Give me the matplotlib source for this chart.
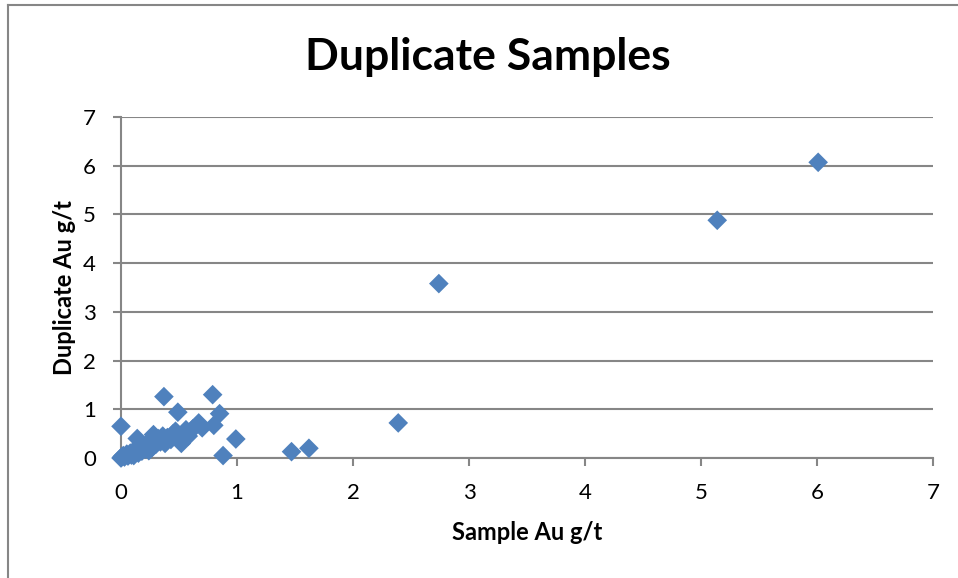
import numpy as np
import matplotlib.pyplot as plt
from matplotlib.lines import Line2D

# sample vs duplicate gold assays (g/t)
sample_au = [0.00, 0.01, 0.02, 0.03, 0.05, 0.06, 0.08, 0.09, 0.10, 0.11,
             0.13, 0.14, 0.15, 0.17, 0.18, 0.20, 0.21, 0.23, 0.24, 0.26,
             0.27, 0.28, 0.30, 0.32, 0.34, 0.36, 0.37, 0.38, 0.40, 0.43,
             0.45, 0.47, 0.49, 0.50, 0.52, 0.54, 0.56, 0.58, 0.62, 0.67,
             0.70, 0.79, 0.80, 0.85, 0.88, 0.99, 0.00, 1.47, 1.62, 2.39,
             2.74, 5.14, 6.01]
duplicate_au = [0.00, 0.03, 0.05, 0.02, 0.08, 0.04, 0.10, 0.06, 0.12, 0.05,
                0.15, 0.40, 0.10, 0.20, 0.14, 0.25, 0.18, 0.30, 0.15, 0.35,
                0.22, 0.48, 0.28, 0.40, 0.33, 0.45, 1.26, 0.30, 0.42, 0.38,
                0.50, 0.55, 0.94, 0.45, 0.30, 0.40, 0.58, 0.45, 0.60, 0.72,
                0.62, 1.30, 0.67, 0.91, 0.05, 0.39, 0.65, 0.13, 0.20, 0.72,
                3.58, 4.88, 6.07]
ticks = [0, 1, 2, 3, 4, 5, 6, 7]

plt.rcParams['font.family'] = ['Lato', 'DejaVu Sans']

fig = plt.figure(figsize=(9.58, 5.78), dpi=100)
ax = fig.add_axes([121 / 958, 1 - 458 / 578, (933 - 121) / 958, (458 - 117) / 578])

grid_col = '#868686'
ax.scatter(sample_au, duplicate_au, marker='D', s=100, color='#4F81BD',
           edgecolors='none', zorder=3, clip_on=False)

ax.set_xlim(0, 7)
ax.set_ylim(0, 7)
ax.set_xticks(ticks)
ax.set_yticks(ticks)
ax.yaxis.grid(True, color=grid_col, linewidth=1.5)
ax.set_axisbelow(True)
for side in ['top', 'right']:
    ax.spines[side].set_visible(False)
for side in ['left', 'bottom']:
    ax.spines[side].set_color(grid_col)
    ax.spines[side].set_linewidth(1.5)
ax.tick_params(axis='both', colors=grid_col, width=1.5, length=6,
               labelsize=16, labelcolor='black')
ax.tick_params(axis='x', pad=12)
ax.tick_params(axis='y', pad=12)

ax.set_xlabel('Sample Au g/t', fontsize=17, fontweight='bold', labelpad=13)
ax.set_ylabel('Duplicate Au g/t', fontsize=17, fontweight='bold', labelpad=5)
fig.text(488 / 958, 1 - 57 / 578, 'Duplicate Samples', fontsize=32,
         fontweight='bold', ha='center', va='center')

# chart frame (only top and left edges are visible in the crop)
fig.add_artist(Line2D([8 / 958, 8 / 958], [0, 1 - 5 / 578], transform=fig.transFigure,
                      color=grid_col, linewidth=1.5))
fig.add_artist(Line2D([8 / 958, 1], [1 - 5 / 578, 1 - 5 / 578], transform=fig.transFigure,
                      color=grid_col, linewidth=1.5))

fig.savefig('out.png', dpi=100)
